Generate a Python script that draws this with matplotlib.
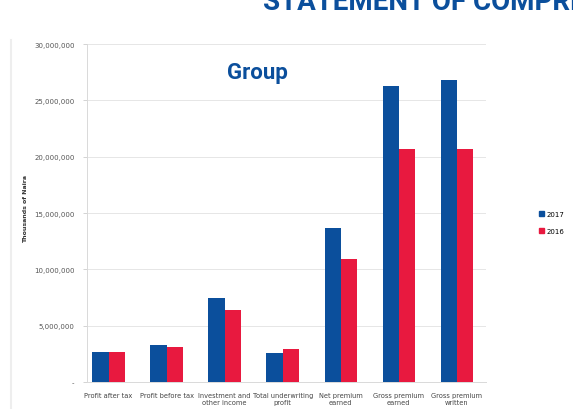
import numpy as np
import matplotlib
matplotlib.use("Agg")
from matplotlib import pyplot as plt
from matplotlib.lines import Line2D

categories = ["Profit after tax", "Profit before tax", "Investment and\nother income",
              "Total underwriting\nprofit", "Net premium\nearned", "Gross premium\nearned",
              "Gross premium\nwritten"]
y2017 = [2660000, 3260000, 7450000, 2570000, 13700000, 26300000, 26800000]
y2016 = [2630000, 3100000, 6400000, 2960000, 10900000, 20700000, 20700000]
yticks = [0, 5000000, 10000000, 15000000, 20000000, 25000000, 30000000]
ytick_labels = ["-", "5,000,000", "10,000,000", "15,000,000", "20,000,000", "25,000,000", "30,000,000"]

blue = "#0b4f9c"
red = "#e8193f"

fig = plt.figure(figsize=(5.73, 4.10), dpi=100)
ax = fig.add_axes([0.152, 0.066, 0.696, 0.824])

x = np.arange(len(categories))
w = 0.28
ax.bar(x - w / 2, y2017, w, color=blue, zorder=3)
ax.bar(x + w / 2, y2016, w, color=red, zorder=3)

ax.set_ylim(0, 30000000)
ax.set_xlim(-0.37, 6.5)
ax.set_yticks(yticks)
ax.set_yticklabels(ytick_labels, fontsize=5, color="#555555")
ax.set_xticks(x)
ax.set_xticklabels(categories, fontsize=4.8, color="#444444", linespacing=1.3)
ax.tick_params(axis="x", length=0, pad=7)
ax.tick_params(axis="y", length=3, color="#cccccc", width=0.6, pad=6)
ax.grid(axis="y", color="#e6e6e6", linewidth=0.7, zorder=0)
for s in ["top", "right"]:
    ax.spines[s].set_visible(False)
ax.spines["left"].set_color("#d9d9d9")
ax.spines["bottom"].set_color("#d9d9d9")
ax.spines["left"].set_linewidth(0.7)
ax.spines["bottom"].set_linewidth(0.7)

fig.text(0.045, 0.49, "Thousands of Naira", rotation=90, fontsize=4.5,
         fontweight="bold", color="#333333", ha="center", va="center")

fig.text(0.45, 0.823, "Group", fontsize=16, fontweight="bold", color="#0b4f9c",
         ha="center", va="center", family="Roboto")
fig.text(0.459, 0.975, "STATEMENT OF COMPREHENSIVE INCOME", fontsize=20,
         fontweight="bold", color="#0b4f9c", ha="left", va="baseline", family="Roboto")

# faint left border of the chart panel
fig.add_artist(Line2D([0.02, 0.02], [0.0, 0.9], transform=fig.transFigure,
                      color="#eeeeee", linewidth=1.5))

handles = [plt.Rectangle((0, 0), 1, 1, color=blue), plt.Rectangle((0, 0), 1, 1, color=red)]
fig.legend(handles, ["2017", "2016"], loc="center left", bbox_to_anchor=(0.935, 0.455),
           frameon=False, fontsize=5, handlelength=0.7, handleheight=0.7,
           handletextpad=0.3, labelspacing=1.6, borderpad=0)

fig.savefig("out.png", dpi=100)
